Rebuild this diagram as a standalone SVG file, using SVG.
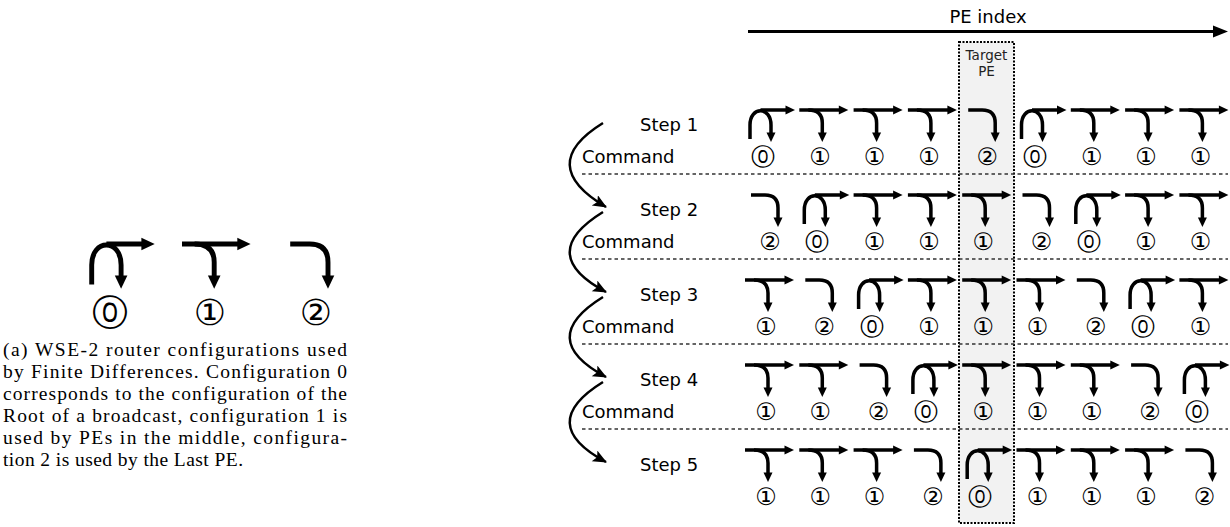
<svg xmlns="http://www.w3.org/2000/svg" xmlns:xlink="http://www.w3.org/1999/xlink" width="1230" height="527" viewBox="0 0 1230 527">
<style>
.ln{fill:none;stroke:#000;stroke-width:3.5;stroke-linecap:butt}
.hd{fill:#000;stroke:none}
.lab{font-family:"DejaVu Sans",sans-serif;font-size:24px;text-anchor:middle;fill:#000}
.big{font-family:"DejaVu Sans",sans-serif;font-size:36px;text-anchor:middle;fill:#000}
.step{font-family:"DejaVu Sans",sans-serif;font-size:18px;fill:#000}
.cap{font-family:"Liberation Serif","DejaVu Serif",serif;font-size:19.5px;fill:#000}
.dash{stroke:#333;stroke-width:1.3;stroke-dasharray:3.5,3;fill:none}
.curve{fill:none;stroke:#000;stroke-width:2.5}
.tgt{font-family:"DejaVu Sans",sans-serif;font-size:13.5px;fill:#222;text-anchor:middle}
</style>
<defs>
<g id="g0">
<path class="ln" d="M5,29 V15 C5,-4 26,-4 26,15 V24"/>
<path class="ln" d="M15.5,0 H42"/>
<polygon class="hd" points="50,0 40.5,-4.5 40.5,4.5"/>
<polygon class="hd" points="26,32 21.5,22.5 30.5,22.5"/>
</g>
<g id="g1">
<path class="ln" d="M0,0 H41"/>
<polygon class="hd" points="49,0 39.5,-4.5 39.5,4.5"/>
<path class="ln" d="M9,0 Q23,0 23,13 V24"/>
<polygon class="hd" points="23,32 18.5,22.5 27.5,22.5"/>
</g>
<g id="g2">
<path class="ln" d="M6,0 H20 Q33,0 33,13 V24"/>
<polygon class="hd" points="33,32 28.5,22.5 37.5,22.5"/>
</g>
<marker id="ah" markerUnits="userSpaceOnUse" markerWidth="16" markerHeight="14" refX="13" refY="6" orient="auto">
<path d="M0,0 L14,6 L0,12 L3,6 Z" fill="#000"/>
</marker>
</defs>
<rect width="1230" height="527" fill="#fff"/>

<!-- Left panel -->
<g id="left-configs">
<g id="cfg0"><use xlink:href="#g0" transform="translate(84.7,244) scale(1.4)"/><text class="big" x="110" y="325">⓪</text></g>
<g id="cfg1"><use xlink:href="#g1" transform="translate(182,244) scale(1.4)"/><text class="big" x="210" y="325">①</text></g>
<g id="cfg2"><use xlink:href="#g2" transform="translate(281.8,244) scale(1.4)"/><text class="big" x="316" y="325">②</text></g>
</g>
<g id="caption">
<text class="cap" x="3" y="356" textLength="344" lengthAdjust="spacing">(a) WSE-2 router configurations used</text>
<text class="cap" x="3" y="378" textLength="344" lengthAdjust="spacing">by Finite Differences. Configuration 0</text>
<text class="cap" x="3" y="400" textLength="344" lengthAdjust="spacing">corresponds to the configuration of the</text>
<text class="cap" x="3" y="422" textLength="344" lengthAdjust="spacing">Root of a broadcast, configuration 1 is</text>
<text class="cap" x="3" y="444" textLength="344" lengthAdjust="spacing">used by PEs in the middle, configura-</text>
<text class="cap" x="3" y="466" textLength="240" lengthAdjust="spacing">tion 2 is used by the Last PE.</text>
</g>

<!-- Right panel -->
<g id="target-box">
<rect x="959" y="42" width="55" height="481" fill="#f2f2f2" stroke="#000" stroke-width="2" stroke-dasharray="2,1.5"/>
<text class="tgt" x="986.5" y="60">Target</text>
<text class="tgt" x="986.5" y="76">PE</text>
</g>
<g id="pe-index">
<text x="988" y="23" font-family="DejaVu Sans,sans-serif" font-size="18" text-anchor="middle">PE index</text>
<line x1="748" y1="31.5" x2="1216" y2="31.5" stroke="#000" stroke-width="3"/>
<polygon points="1228,31.5 1213,25.5 1213,37.5" fill="#000"/>
</g>

<g id="separators">
<line class="dash" x1="582" y1="174" x2="1228" y2="174"/>
<line class="dash" x1="582" y1="259" x2="1228" y2="259"/>
<line class="dash" x1="582" y1="344" x2="1228" y2="344"/>
<line class="dash" x1="582" y1="429" x2="1228" y2="429"/>
</g>

<g id="step-labels">
<text class="step" x="640" y="131">Step 1</text>
<text class="step" x="582" y="163">Command</text>
<text class="step" x="640" y="216">Step 2</text>
<text class="step" x="582" y="248">Command</text>
<text class="step" x="640" y="301">Step 3</text>
<text class="step" x="582" y="333">Command</text>
<text class="step" x="640" y="386">Step 4</text>
<text class="step" x="582" y="418">Command</text>
<text class="step" x="640" y="471">Step 5</text>
</g>

<g id="connectors">
<path class="curve" d="M603,123 Q535,165 606,207" marker-end="url(#ah)"/>
<path class="curve" d="M603,212 Q535,254 606,292" marker-end="url(#ah)"/>
<path class="curve" d="M603,297 Q535,339 606,377" marker-end="url(#ah)"/>
<path class="curve" d="M603,382 Q535,424 606,462" marker-end="url(#ah)"/>
</g>

<g id="row1">
<g id="r1c0"><use xlink:href="#g0" x="745" y="110"/><text class="lab" x="763" y="165">⓪</text></g>
<g id="r1c1"><use xlink:href="#g1" x="799.3" y="110"/><text class="lab" x="820" y="165">①</text></g>
<g id="r1c2"><use xlink:href="#g1" x="853.6" y="110"/><text class="lab" x="874.6" y="165">①</text></g>
<g id="r1c3"><use xlink:href="#g1" x="907.9" y="110"/><text class="lab" x="928.9" y="165">①</text></g>
<g id="r1c4"><use xlink:href="#g2" x="962.2" y="110"/><text class="lab" x="987.2" y="165">②</text></g>
<g id="r1c5"><use xlink:href="#g0" x="1016.5" y="110"/><text class="lab" x="1034.5" y="165">⓪</text></g>
<g id="r1c6"><use xlink:href="#g1" x="1070.8" y="110"/><text class="lab" x="1091.8" y="165">①</text></g>
<g id="r1c7"><use xlink:href="#g1" x="1125.1" y="110"/><text class="lab" x="1146.1" y="165">①</text></g>
<g id="r1c8"><use xlink:href="#g1" x="1179.4" y="110"/><text class="lab" x="1200.4" y="165">①</text></g>
</g>
<g id="row2">
<g id="r2c0"><use xlink:href="#g2" x="745" y="195"/><text class="lab" x="770" y="250">②</text></g>
<g id="r2c1"><use xlink:href="#g0" x="799.3" y="195"/><text class="lab" x="817.3" y="250">⓪</text></g>
<g id="r2c2"><use xlink:href="#g1" x="853.6" y="195"/><text class="lab" x="874.6" y="250">①</text></g>
<g id="r2c3"><use xlink:href="#g1" x="907.9" y="195"/><text class="lab" x="928.9" y="250">①</text></g>
<g id="r2c4"><use xlink:href="#g1" x="962.2" y="195"/><text class="lab" x="983.2" y="250">①</text></g>
<g id="r2c5"><use xlink:href="#g2" x="1016.5" y="195"/><text class="lab" x="1041.5" y="250">②</text></g>
<g id="r2c6"><use xlink:href="#g0" x="1070.8" y="195"/><text class="lab" x="1088.8" y="250">⓪</text></g>
<g id="r2c7"><use xlink:href="#g1" x="1125.1" y="195"/><text class="lab" x="1146.1" y="250">①</text></g>
<g id="r2c8"><use xlink:href="#g1" x="1179.4" y="195"/><text class="lab" x="1200.4" y="250">①</text></g>
</g>
<g id="row3">
<g id="r3c0"><use xlink:href="#g1" x="745" y="280"/><text class="lab" x="766" y="335">①</text></g>
<g id="r3c1"><use xlink:href="#g2" x="799.3" y="280"/><text class="lab" x="824.3" y="335">②</text></g>
<g id="r3c2"><use xlink:href="#g0" x="853.6" y="280"/><text class="lab" x="871.6" y="335">⓪</text></g>
<g id="r3c3"><use xlink:href="#g1" x="907.9" y="280"/><text class="lab" x="928.9" y="335">①</text></g>
<g id="r3c4"><use xlink:href="#g1" x="962.2" y="280"/><text class="lab" x="983.2" y="335">①</text></g>
<g id="r3c5"><use xlink:href="#g1" x="1016.5" y="280"/><text class="lab" x="1037.5" y="335">①</text></g>
<g id="r3c6"><use xlink:href="#g2" x="1070.8" y="280"/><text class="lab" x="1095.8" y="335">②</text></g>
<g id="r3c7"><use xlink:href="#g0" x="1125.1" y="280"/><text class="lab" x="1143.1" y="335">⓪</text></g>
<g id="r3c8"><use xlink:href="#g1" x="1179.4" y="280"/><text class="lab" x="1200.4" y="335">①</text></g>
</g>
<g id="row4">
<g id="r4c0"><use xlink:href="#g1" x="745" y="365"/><text class="lab" x="766" y="420">①</text></g>
<g id="r4c1"><use xlink:href="#g1" x="799.3" y="365"/><text class="lab" x="820.3" y="420">①</text></g>
<g id="r4c2"><use xlink:href="#g2" x="853.6" y="365"/><text class="lab" x="878.6" y="420">②</text></g>
<g id="r4c3"><use xlink:href="#g0" x="907.9" y="365"/><text class="lab" x="925.9" y="420">⓪</text></g>
<g id="r4c4"><use xlink:href="#g1" x="962.2" y="365"/><text class="lab" x="983.2" y="420">①</text></g>
<g id="r4c5"><use xlink:href="#g1" x="1016.5" y="365"/><text class="lab" x="1037.5" y="420">①</text></g>
<g id="r4c6"><use xlink:href="#g1" x="1070.8" y="365"/><text class="lab" x="1091.8" y="420">①</text></g>
<g id="r4c7"><use xlink:href="#g2" x="1125.1" y="365"/><text class="lab" x="1150.1" y="420">②</text></g>
<g id="r4c8"><use xlink:href="#g0" x="1179.4" y="365"/><text class="lab" x="1197.4" y="420">⓪</text></g>
</g>
<g id="row5">
<g id="r5c0"><use xlink:href="#g1" x="745" y="450"/><text class="lab" x="766" y="505">①</text></g>
<g id="r5c1"><use xlink:href="#g1" x="799.3" y="450"/><text class="lab" x="820.3" y="505">①</text></g>
<g id="r5c2"><use xlink:href="#g1" x="853.6" y="450"/><text class="lab" x="874.6" y="505">①</text></g>
<g id="r5c3"><use xlink:href="#g2" x="907.9" y="450"/><text class="lab" x="932.9" y="505">②</text></g>
<g id="r5c4"><use xlink:href="#g0" x="962.2" y="450"/><text class="lab" x="980.2" y="505">⓪</text></g>
<g id="r5c5"><use xlink:href="#g1" x="1016.5" y="450"/><text class="lab" x="1037.5" y="505">①</text></g>
<g id="r5c6"><use xlink:href="#g1" x="1070.8" y="450"/><text class="lab" x="1091.8" y="505">①</text></g>
<g id="r5c7"><use xlink:href="#g1" x="1125.1" y="450"/><text class="lab" x="1146.1" y="505">①</text></g>
<g id="r5c8"><use xlink:href="#g2" x="1179.4" y="450"/><text class="lab" x="1204.4" y="505">②</text></g>
</g>
</svg>
